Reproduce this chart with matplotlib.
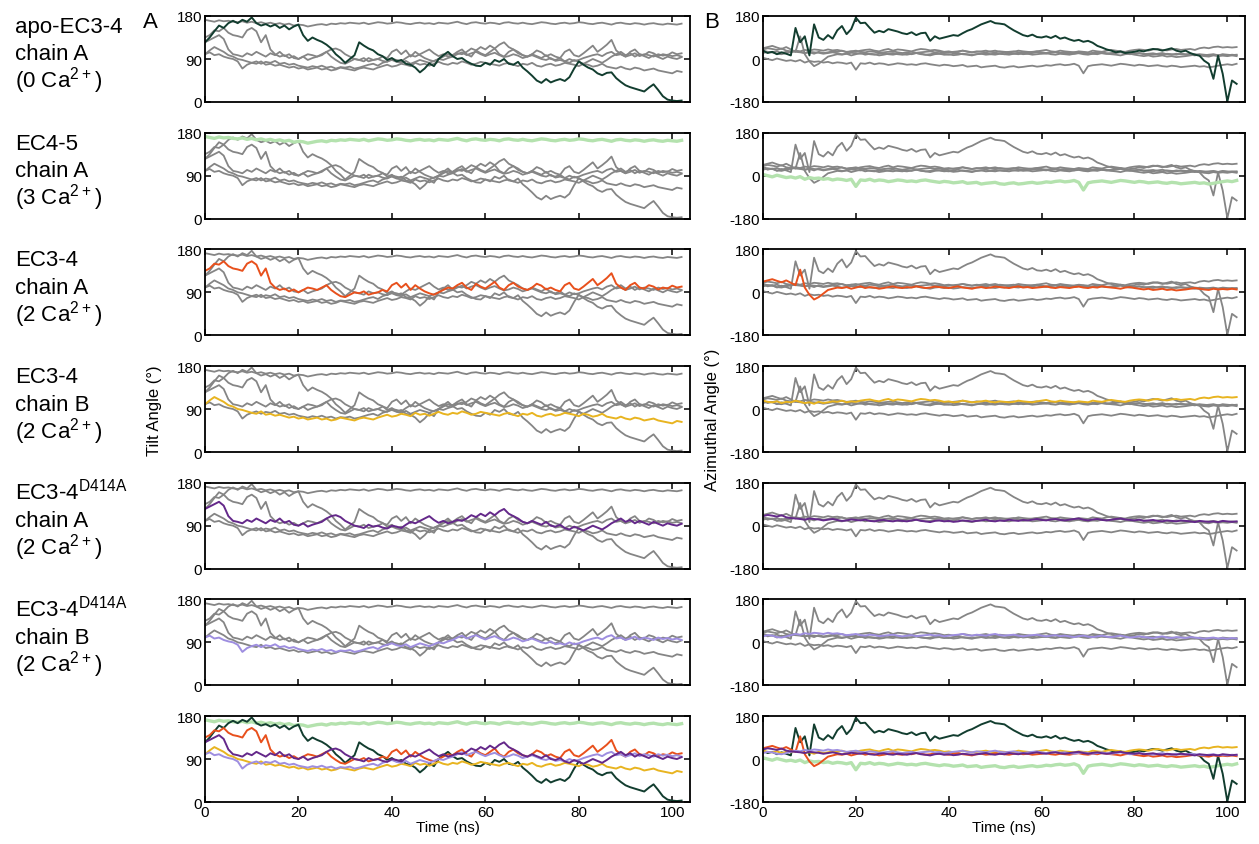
import numpy as np
import matplotlib.pyplot as plt

plt.rcParams['font.family'] = ['Liberation Sans', 'DejaVu Sans']
plt.rcParams['mathtext.fontset'] = 'custom'
plt.rcParams['mathtext.rm'] = 'Liberation Sans'
plt.rcParams['axes.unicode_minus'] = False

# time axis, 1 ns sampling
time_ns = np.arange(0, 103)

# tilt angles (deg)
tilt_apo = [125, 135, 148, 160, 155, 165, 170, 165, 172, 168,
            177, 165, 160, 163, 158, 162, 155, 160, 152, 158,
            162, 140, 128, 135, 130, 126, 120, 112, 100, 92,
            82, 90, 98, 125, 118, 112, 108, 100, 96, 88,
            92, 85, 88, 80, 78, 72, 62, 70, 81, 75,
            90, 98, 105, 96, 90, 92, 85, 80, 76, 75,
            82, 78, 88, 84, 90, 80, 78, 84, 72, 64,
            55, 45, 40, 48, 41, 45, 48, 44, 52, 70,
            85, 78, 72, 68, 60, 56, 61, 62, 50, 42,
            35, 31, 28, 25, 22, 30, 37, 25, 12, 5,
            3, 2, 3]
tilt_ec45 = [172, 170, 168, 171, 169, 170, 168, 167, 169, 166,
             168, 165, 167, 164, 166, 163, 165, 162, 164, 160,
             162, 161, 158, 160, 162, 163, 161, 164, 163, 165,
             164, 166, 165, 164, 166, 163, 165, 167, 166, 164,
             165, 167, 166, 164, 163, 165, 166, 164, 165, 163,
             166, 165, 164, 166, 168, 165, 163, 166, 167, 165,
             164, 166, 165, 163, 166, 167, 165, 164, 166, 164,
             163, 165, 167, 166, 164, 163, 165, 166, 164, 165,
             167, 166, 164, 163, 165, 166, 164, 162, 165, 166,
             164, 163, 165, 164, 162, 164, 165, 163, 162, 164,
             163, 162, 164]
tilt_ec34_a = [135, 140, 150, 148, 155, 145, 140, 138, 135, 150,
               155, 148, 125, 140, 110, 100, 95, 98, 92, 96,
               90, 95, 100, 98, 95, 100, 105, 95, 88, 82,
               80, 85, 90, 88, 92, 85, 88, 90, 95, 92,
               105, 110, 100, 108, 95, 105, 98, 92, 88, 85,
               90, 95, 100, 98, 105, 110, 100, 95, 108, 102,
               98, 105, 112, 100, 95, 105, 110, 102, 98, 95,
               100, 108, 104, 96, 100, 95, 92, 105, 110, 98,
               95, 102, 110, 118, 105, 112, 120, 130, 108, 100,
               95, 105, 110, 100, 98, 105, 102, 96, 100, 98,
               104, 100, 102]
tilt_ec34_b = [100, 108, 115, 110, 105, 98, 95, 90, 88, 85,
               82, 80, 85, 78, 80, 76, 78, 75, 72, 74,
               70, 72, 68, 70, 72, 68, 70, 66, 68, 72,
               70, 68, 66, 70, 72, 70, 68, 72, 75, 78,
               74, 76, 80, 78, 75, 82, 78, 80, 76, 80,
               84, 80, 78, 82, 80, 85, 82, 78, 80, 84,
               82, 80, 78, 76, 80, 82, 78, 75, 80, 78,
               82, 76, 74, 78, 80, 76, 78, 82, 80, 78,
               75, 80, 78, 74, 76, 80, 74, 72, 70, 74,
               70, 68, 72, 70, 66, 68, 70, 66, 64, 62,
               60, 65, 63]
tilt_d414a_a = [125, 130, 135, 140, 132, 110, 100, 98, 95, 102,
                98, 105, 100, 95, 102, 98, 105, 96, 100, 92,
                90, 95, 88, 92, 95, 98, 105, 110, 112, 108,
                100, 95, 90, 88, 85, 92, 88, 90, 86, 84,
                90, 88, 85, 92, 98, 95, 100, 105, 110, 102,
                96, 100, 95, 98, 102, 100, 105, 112, 108, 115,
                110, 118, 112, 120, 125, 115, 110, 105, 98, 95,
                100, 96, 92, 98, 90, 88, 92, 85, 82, 88,
                84, 80, 85, 90, 86, 82, 88, 95, 100, 105,
                98, 102, 95, 100, 96, 92, 98, 94, 90, 95,
                92, 90, 94]
tilt_d414a_b = [100, 104, 98, 100, 95, 92, 90, 85, 70, 78,
                82, 85, 80, 84, 82, 86, 80, 82, 78, 80,
                76, 74, 72, 75, 73, 76, 72, 74, 70, 73,
                72, 74, 70, 72, 75, 78, 80, 76, 82, 85,
                88, 84, 82, 86, 80, 84, 88, 85, 82, 86,
                90, 88, 92, 95, 100, 104, 98, 102, 105, 100,
                96, 100, 103, 98, 94, 96, 100, 97, 92, 95,
                98, 94, 90, 88, 92, 86, 88, 85, 90, 86,
                88, 92, 95, 98, 100, 96, 102, 105, 98, 100,
                95, 98, 102, 96, 100, 98, 95, 100, 97, 99,
                96, 98, 95]

# azimuthal angles (deg)
azim_apo = [35, 25, 30, 20, 28, 22, 15, 130, 70, 95,
            15, 145, 90, 80, 100, 85, 120, 138, 104, 125,
            173, 150, 152, 130, 110, 118, 112, 125, 120, 115,
            108, 104, 112, 100, 108, 110, 76, 95, 85, 90,
            95, 100, 97, 108, 118, 125, 135, 145, 152, 159,
            150, 148, 145, 132, 120, 110, 100, 95, 102, 92,
            90, 95, 88, 97, 85, 90, 82, 76, 80, 72,
            76, 68, 55, 48, 40, 35, 28, 32, 25, 28,
            30, 35, 32, 38, 42, 40, 35, 40, 45, 35,
            30, 35, 25, 18, 14, -7, -20, -83, 14, -62,
            -178, -90, -104]
azim_ec45 = [5, 0, -5, 2, -3, -8, -5, -10, -4, -15,
             -8, -12, -10, -15, -12, -18, -14, -16, -20, -15,
             -45, -18, -20, -15, -22, -18, -20, -25, -22, -18,
             -20, -24, -22, -25, -20, -18, -22, -25, -28, -24,
             -26, -30, -28, -25, -32, -30, -28, -35, -32, -30,
             -28, -34, -36, -32, -30, -35, -33, -30, -28, -32,
             -30, -26, -28, -24, -22, -26, -24, -20, -28, -60,
             -30, -26, -24, -22, -25, -28, -24, -20, -22, -25,
             -28, -24, -26, -30, -28, -26, -30, -32, -28, -30,
             -34, -32, -30, -28, -32, -30, -35, -32, -28, -25,
             -22, -25, -20]
azim_ec34_a = [45, 50, 55, 48, 42, 50, 40, 30, 95, 20,
               -10, -30, -20, -5, 10, 15, 20, 18, 22, 15,
               20, 25, 18, 22, 20, 15, 18, 22, 25, 20,
               18, 22, 20, 25, 22, 18, 20, 24, 22, 20,
               18, 22, 25, 20, 18, 15, 20, 22, 18, 20,
               24, 22, 20, 18, 22, 25, 20, 22, 18, 20,
               22, 25, 20, 18, 22, 20, 18, 22, 24, 20,
               18, 22, 20, 25, 22, 20, 18, 15, 20, 22,
               18, 15, 12, 15, 10, 12, 15, 10, 12, 8,
               10, 12, 15, 18, 15, 12, 10, 15, 12, 14,
               12, 15, 12]
azim_ec34_b = [35, 30, 28, 32, 25, 30, 28, 35, 30, 25,
               28, 22, 30, 25, 28, 32, 30, 35, 28, 32,
               30, 35, 38, 40, 35, 32, 38, 42, 35, 40,
               38, 35, 32, 38, 42, 40, 36, 38, 35, 30,
               32, 28, 30, 35, 32, 28, 30, 32, 35, 30,
               28, 32, 30, 28, 30, 35, 32, 30, 28, 32,
               35, 38, 32, 30, 35, 32, 30, 28, 32, 30,
               28, 35, 32, 30, 35, 38, 35, 32, 30, 35,
               38, 40, 38, 35, 40, 42, 38, 36, 40, 42,
               38, 40, 42, 38, 45, 48, 45, 50, 52, 48,
               50, 48, 50]
azim_d414a_a = [40, 45, 42, 38, 44, 35, 32, 30, 28, 25,
                30, 28, 26, 22, 25, 28, 24, 20, 22, 26,
                24, 22, 25, 20, 18, 22, 24, 20, 18, 22,
                20, 18, 22, 25, 20, 18, 15, 20, 22, 18,
                20, 16, 18, 22, 20, 18, 20, 22, 25, 20,
                18, 22, 20, 25, 22, 20, 24, 22, 25, 28,
                24, 22, 26, 28, 24, 22, 25, 28, 30, 25,
                22, 26, 28, 24, 22, 25, 28, 30, 26, 24,
                22, 25, 20, 22, 24, 20, 18, 22, 20, 18,
                22, 20, 18, 15, 20, 18, 16, 18, 15, 20,
                18, 16, 18]
azim_d414a_b = [25, 30, 28, 22, 20, 25, 30, 35, 32, 38,
                35, 40, 38, 35, 40, 36, 38, 34, 30, 32,
                35, 30, 28, 32, 30, 26, 28, 30, 32, 28,
                25, 28, 30, 26, 28, 30, 32, 28, 30, 25,
                28, 30, 32, 35, 30, 28, 32, 30, 28, 32,
                35, 30, 28, 30, 32, 28, 25, 28, 30, 32,
                28, 25, 28, 30, 26, 28, 25, 22, 26, 28,
                24, 22, 25, 28, 24, 22, 25, 28, 24, 20,
                22, 25, 22, 20, 18, 22, 25, 20, 18, 22,
                20, 18, 22, 20, 18, 15, 18, 20, 16, 18,
                15, 18, 16]

tilt = [tilt_apo, tilt_ec45, tilt_ec34_a, tilt_ec34_b, tilt_d414a_a, tilt_d414a_b]
azim = [azim_apo, azim_ec45, azim_ec34_a, azim_ec34_b, azim_d414a_a, azim_d414a_b]

ca = ' Ca$^{\\mathrm{2+}}$)'
row_labels = [['apo-EC3-4', 'chain A', '(0' + ca],
              ['EC4-5', 'chain A', '(3' + ca],
              ['EC3-4', 'chain A', '(2' + ca],
              ['EC3-4', 'chain B', '(2' + ca],
              ['EC3-4$^{\\mathrm{D414A}}$', 'chain A', '(2' + ca],
              ['EC3-4$^{\\mathrm{D414A}}$', 'chain B', '(2' + ca]]
colors = ['#123d2f', '#b4e2ae', '#e8501c', '#e8b420', '#64288a', '#9e8ee0']
widths = [1.4, 2.4, 1.4, 1.4, 1.4, 1.4]
grey = '#858585'

W, H = 1259, 845
fig = plt.figure(figsize=(W / 100, H / 100), dpi=100)

col_left = [205, 763]
col_width = [485, 482]
row_top0, row_pitch, row_h = 17, 116.67, 86


def style_axis(ax, yticks, ylim, show_x):
    ax.set_xlim(0, 103.8)
    ax.set_ylim(*ylim)
    ax.set_yticks(yticks)
    ax.set_xticks([0, 20, 40, 60, 80, 100])
    ax.tick_params(direction='in', top=True, right=True, length=4, width=1.1,
                   labelsize=11, pad=2)
    if not show_x:
        ax.set_xticklabels([])
    for s in ax.spines.values():
        s.set_linewidth(1.3)


for r in range(7):
    top = row_top0 + r * row_pitch
    for c in range(2):
        rect = [col_left[c] / W, 1 - (top + row_h) / H, col_width[c] / W, row_h / H]
        ax = fig.add_axes(rect)
        data = tilt if c == 0 else azim
        if r < 6:
            for i in range(6):
                if i != r:
                    ax.plot(time_ns, data[i], color=grey, lw=1.3)
            ax.plot(time_ns, data[r], color=colors[r], lw=widths[r])
        else:
            for i in [1, 0, 3, 2, 5, 4]:
                ax.plot(time_ns, data[i], color=colors[i], lw=widths[i])
        if c == 0:
            style_axis(ax, [0, 90, 180], (0, 180), r == 6)
        else:
            style_axis(ax, [-180, 0, 180], (-180, 180), r == 6)
        if r == 6:
            ax.set_xlabel('Time (ns)', fontsize=11, labelpad=1)
    if r < 6:
        for k, line in enumerate(row_labels[r]):
            fig.text(15 / W, 1 - (top + 16 + 27.5 * k) / H, line, fontsize=16,
                     va='baseline', ha='left')

fig.text(143 / W, 1 - 23 / H, 'A', fontsize=16, va='center')
fig.text(704 / W, 1 - 22 / H, 'B', fontsize=16, va='center')
fig.text(155 / W, 1 - 411 / H, 'Tilt Angle (°)', rotation=90, fontsize=12,
         va='center', ha='center')
fig.text(713 / W, 1 - 420 / H, 'Azimuthal Angle (°)', rotation=90, fontsize=12,
         va='center', ha='center')

fig.savefig('out.png', dpi=100)
